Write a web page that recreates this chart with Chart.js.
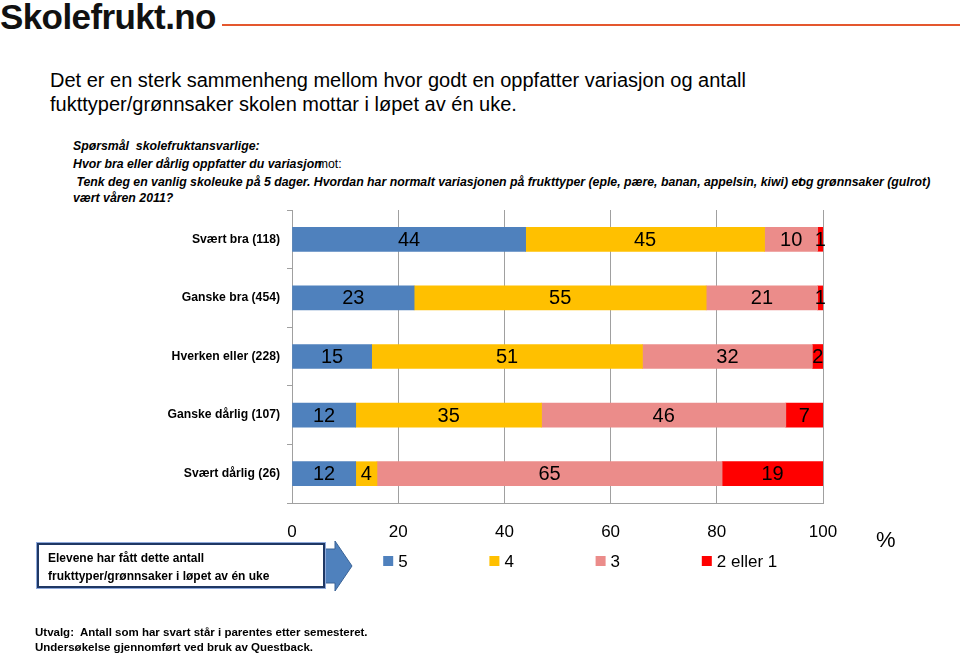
<!DOCTYPE html>
<html>
<head>
<meta charset="utf-8">
<script src="https://cdn.jsdelivr.net/npm/chart.js@4.4.1/dist/chart.umd.min.js"></script>
<style>
  html, body { margin:0; padding:0; background:#fff; }
  body { width:960px; height:654px; position:relative; overflow:hidden; font-family:"Liberation Sans", Arial, sans-serif; color:#000; }
  .t { position:absolute; white-space:nowrap; }
  .q { font-size:12.3px; line-height:16px; font-weight:bold; font-style:italic; }
  #chart { position:absolute; left:0; top:0; }
</style>
</head>
<body>
<script>
// ---- data ----
const categories = ["Svært bra (118)", "Ganske bra (454)", "Hverken eller (228)", "Ganske dårlig (107)", "Svært dårlig (26)"];
const seriesNames = ["5", "4", "3", "2 eller 1"];
const values5 = [44, 23, 15, 12, 12];
const values4 = [45, 55, 51, 35, 4];
const values3 = [10, 21, 32, 46, 65];
const values21 = [1, 1, 2, 7, 19];
const xTicks = [0, 20, 40, 60, 80, 100];
const seriesColors = ["#4F81BD", "#FFC000", "#EB8C8A", "#FF0000"];
</script>

<div class="t" style="left:0;top:-1px;font-size:35px;font-weight:bold;line-height:35px;letter-spacing:-0.6px;color:#111;">Skolefrukt.no</div>
<div class="t" style="left:222px;top:24px;width:738px;height:2px;background:#E4572E;"></div>

<div class="t" style="left:50px;top:68px;font-size:20px;line-height:24px;">Det er en sterk sammenheng mellom hvor godt en oppfatter variasjon og antall</div>
<div class="t" style="left:50px;top:92px;font-size:20px;line-height:24px;">fukttyper/grønnsaker skolen mottar i løpet av én uke.</div>

<div class="t q" style="left:73px;top:138px;">Spørsmål&nbsp; skolefruktansvarlige:</div>
<div class="t q" style="left:73px;top:156px;">Hvor bra eller dårlig oppfatter du variasjon<span style="font-weight:normal;font-style:normal;margin-left:-4px;">mot:</span></div>
<div class="t q" style="left:73px;top:174px;">&nbsp;Tenk deg en vanlig skoleuke på 5 dager. Hvordan har normalt variasjonen på frukttyper (eple, pære, banan, appelsin, kiwi) et<span style="margin-left:-4px;">og</span> grønnsaker (gulrot)</div>
<div class="t q" style="left:73px;top:190px;">vært våren 2011?</div>

<canvas id="chart" width="960" height="654"></canvas>

<div class="t" style="left:876px;top:527px;font-size:22px;line-height:26px;">%</div>

<svg class="t" style="left:300px;top:536px;" width="60" height="60">
  <polygon points="25,13 35,13 35,5 52,30 35,55 35,47 25,47" fill="#4F81BD" stroke="#3A6396" stroke-width="1"/>
</svg>
<div class="t" style="left:37px;top:543px;width:284px;height:41px;border:2px solid #1F3864;box-shadow:0 0 0 1px #8EA9DB;background:#fff;"></div>
<div class="t" style="left:48px;top:550px;font-size:12px;line-height:16px;font-weight:bold;">Elevene har fått dette antall</div>
<div class="t" style="left:48px;top:568px;font-size:12px;line-height:16px;font-weight:bold;">frukttyper/grønnsaker i løpet av én uke</div>

<div class="t" style="left:35px;top:625px;font-size:11.5px;line-height:15px;font-weight:bold;">Utvalg:&nbsp; Antall som har svart står i parentes etter semesteret.</div>
<div class="t" style="left:35px;top:640px;font-size:11.5px;line-height:15px;font-weight:bold;">Undersøkelse gjennomført ved bruk av Questback.</div>

<script>
const seriesValues = [values5, values4, values3, values21];

const valueLabels = {
  id: 'valueLabels',
  afterDatasetsDraw(chart) {
    const ctx = chart.ctx;
    ctx.save();
    ctx.font = '20px "Liberation Sans", Arial, sans-serif';
    ctx.fillStyle = '#000';
    ctx.textAlign = 'center';
    ctx.textBaseline = 'middle';
    chart.data.datasets.forEach((ds, di) => {
      const meta = chart.getDatasetMeta(di);
      meta.data.forEach((bar, i) => {
        const cx = (bar.x + bar.base) / 2;
        ctx.fillText(String(ds.data[i]), cx, bar.y + 1);
      });
    });
    ctx.restore();
  }
};

const customLegend = {
  id: 'customLegend',
  afterDraw(chart) {
    const ctx = chart.ctx;
    const xs = chart.scales.x;
    ctx.save();
    ctx.font = '17px "Liberation Sans", Arial, sans-serif';
    ctx.textAlign = 'left';
    ctx.textBaseline = 'middle';
    chart.data.datasets.forEach((ds, i) => {
      const x0 = xs.getPixelForValue(xTicks[i + 1]) - 15;
      const y = 561;
      ctx.fillStyle = ds.backgroundColor;
      ctx.fillRect(x0, y - 5, 10, 10);
      ctx.fillStyle = '#000';
      ctx.fillText(ds.label, x0 + 15, y + 1);
    });
    ctx.restore();
  }
};

new Chart(document.getElementById('chart'), {
  type: 'bar',
  data: {
    labels: categories,
    datasets: seriesNames.map((n, i) => ({
      label: n,
      data: seriesValues[i],
      backgroundColor: seriesColors[i],
      borderWidth: 0,
      barThickness: 24
    }))
  },
  options: {
    indexAxis: 'y',
    responsive: false,
    devicePixelRatio: 1,
    animation: false,
    layout: { padding: { left: 0, top: 210, right: 137, bottom: 111 } },
    plugins: { legend: { display: false }, tooltip: { enabled: false } },
    scales: {
      x: {
        stacked: true,
        min: 0, max: 100,
        afterBuildTicks(s) { s.ticks = xTicks.map(v => ({ value: v })); },
        afterFit(s) { s.height = 40; },
        ticks: { color: '#000', font: { size: 17, family: '"Liberation Sans", Arial, sans-serif' }, padding: 19, maxRotation: 0 },
        grid: { color: '#A0A0A0', lineWidth: 1, drawTicks: false },
        border: { display: true, color: '#A0A0A0', width: 1 }
      },
      y: {
        stacked: true,
        offset: true,
        afterFit(s) { s.width = 292; },
        ticks: { color: '#000', font: { size: 12.2, weight: 'bold', family: '"Liberation Sans", Arial, sans-serif' }, padding: 7 },
        grid: { drawOnChartArea: false, drawTicks: true, tickLength: 5, color: '#A0A0A0', offset: true },
        border: { display: true, color: '#A0A0A0', width: 1 }
      }
    }
  },
  plugins: [valueLabels, customLegend]
});
</script>
</body>
</html>
